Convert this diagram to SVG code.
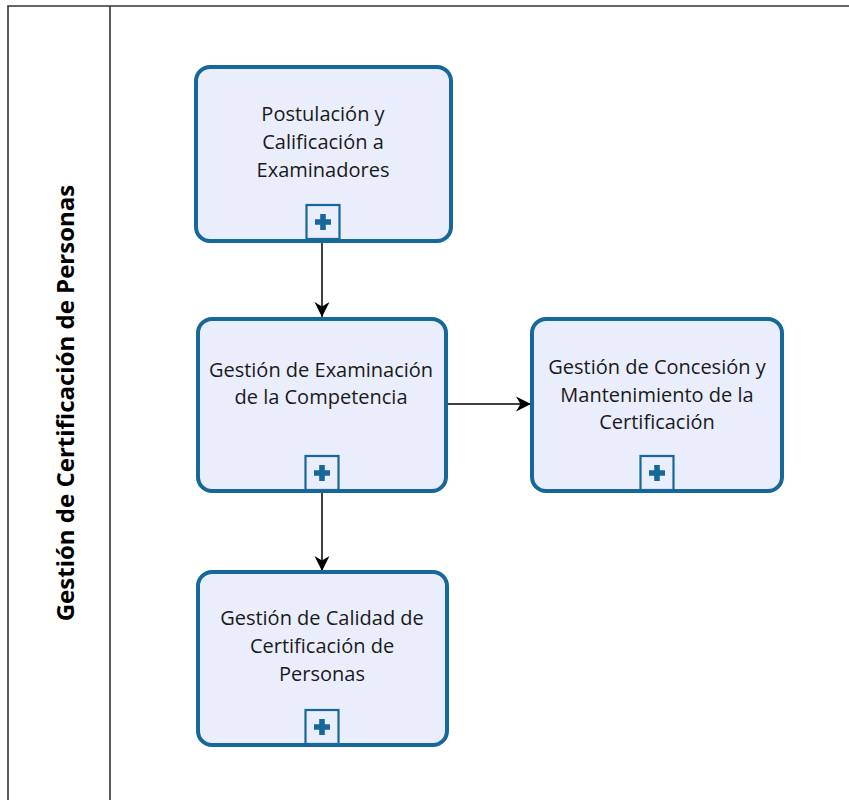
<svg xmlns="http://www.w3.org/2000/svg" width="849" height="800" viewBox="0 0 849 800">
<style>
.task{fill:#eaedfb;stroke:#16689b;stroke-width:4}
.mk{fill:#eaedfb;stroke:#16689b;stroke-width:2.2}
.plus{fill:#16689b}
.lbl{font-family:"Open Sans","Noto Sans",sans-serif;font-size:20px;fill:#1a1a1a;text-anchor:middle}
.lane{fill:none;stroke:#333;stroke-width:1.6}
.edge{fill:none;stroke:#000;stroke-width:1.5}
.title{font-family:"Open Sans","Noto Sans",sans-serif;font-size:24px;font-weight:bold;fill:#000;text-anchor:middle}
</style>
<defs>
<marker id="arr" markerUnits="userSpaceOnUse" markerWidth="18" markerHeight="18" refX="15" refY="9" orient="auto">
<path d="M0,1.5 L15,9 L0,16.5 L4.5,9 Z" fill="#000"/>
</marker>
<g id="plusmk">
<rect class="mk" x="-16.5" y="-17" width="33" height="34"/>
<path class="plus" d="M-2.8,-8 H2.8 V-2.8 H8 V2.8 H2.8 V8 H-2.8 V2.8 H-8 V-2.8 H-2.8 Z"/>
</g>
</defs>
<g id="pool">
<path class="lane" d="M849,6 H8 V800"/>
<line class="lane" x1="110" y1="6" x2="110" y2="800"/>
<text class="title" transform="translate(74,403) rotate(-90)">Gestión de Certificación de Personas</text>
</g>
<g id="connectors">
<line class="edge" x1="322" y1="241" x2="322" y2="317" marker-end="url(#arr)"/>
<line class="edge" x1="322" y1="491" x2="322" y2="571" marker-end="url(#arr)"/>
<line class="edge" x1="446" y1="404" x2="531" y2="404" marker-end="url(#arr)"/>
</g>
<g id="task1">
<rect class="task" x="196" y="67" width="255" height="174" rx="14"/>
<text class="lbl" x="323" y="121">Postulación y</text>
<text class="lbl" x="323" y="149">Calificación a</text>
<text class="lbl" x="323" y="177">Examinadores</text>
<use href="#plusmk" x="323" y="222"/>
</g>
<g id="task2">
<rect class="task" x="198" y="319" width="248" height="172" rx="14"/>
<text class="lbl" x="321" y="377">Gestión de Examinación</text>
<text class="lbl" x="321" y="404">de la Competencia</text>
<use href="#plusmk" x="322" y="473"/>
</g>
<g id="task3">
<rect class="task" x="532" y="319" width="250" height="172" rx="14"/>
<text class="lbl" x="657" y="374">Gestión de Concesión y</text>
<text class="lbl" x="657" y="402">Mantenimiento de la</text>
<text class="lbl" x="657" y="429">Certificación</text>
<use href="#plusmk" x="657" y="473"/>
</g>
<g id="task4">
<rect class="task" x="198" y="572" width="249" height="173" rx="14"/>
<text class="lbl" x="322" y="625">Gestión de Calidad de</text>
<text class="lbl" x="322" y="653">Certificación de</text>
<text class="lbl" x="322" y="681">Personas</text>
<use href="#plusmk" x="322" y="727"/>
</g>
</svg>
